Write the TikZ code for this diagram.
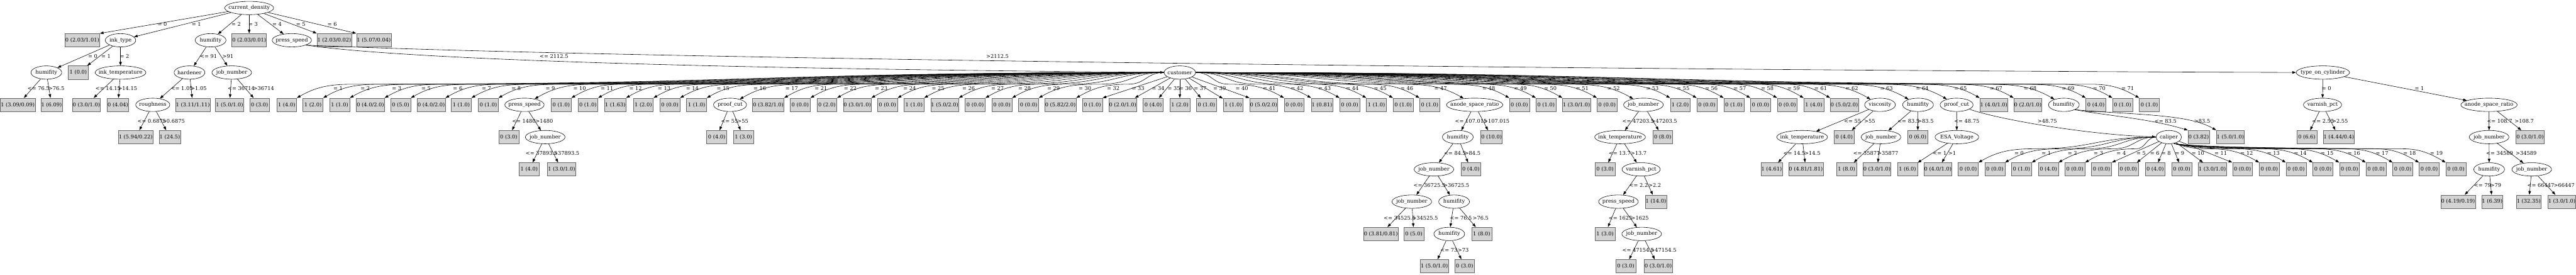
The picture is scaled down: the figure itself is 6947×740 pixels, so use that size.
\documentclass[tikz,border=0pt]{standalone}
\usepackage{fontspec}
\setmainfont{DejaVu Serif}
\usetikzlibrary{arrows.meta,shapes}
\definecolor{leafgray}{HTML}{D3D3D3}

\begin{document}
\begin{tikzpicture}[
    x=1pt, y=1pt,
    every node/.style={font=\fontsize{14}{16}\selectfont},
    dec/.style={ellipse, draw, line width=1pt, inner sep=-100pt, minimum height=36pt, minimum width=#1},
    dec/.default=83,
    leaf/.style={rectangle, draw=black!60, fill=leafgray, line width=1pt, inner xsep=1pt, inner ysep=0pt, minimum width=54pt, minimum height=36pt},
    lbl/.style={inner sep=1pt},
    arr/.style={-{Triangle[length=10pt,width=7pt]}, line width=1pt},
]
\useasboundingbox (0,0) rectangle (6947,-740);
\node[dec=132] (cd) at (672,-21.5) {current\_density};
\node[leaf] (cd0) at (222,-108.5) {0 (2.03/1.01)};
\node[dec=82] (ink) at (325,-108.5) {ink\_type};
\node[dec] (hum1) at (568,-108.5) {humifity};
\node[leaf] (cd3) at (672,-108.5) {0 (2.03/0.01)};
\node[dec=106] (prs1) at (787,-108.5) {press\_speed};
\node[leaf] (cd5) at (901.5,-108.5) {1 (2.03/0.02)};
\node[leaf] (cd6) at (1008,-108.5) {1 (5.07/0.04)};
\node[dec] (hum2) at (125,-195.5) {humifity};
\node[leaf] (ink1) at (211,-195.5) {1 (0.0)};
\node[dec=137] (ikt1) at (325,-195.5) {ink\_temperature};
\node[dec] (hard) at (511,-195.5) {hardener};
\node[dec=107] (job1) at (625,-195.5) {job\_number};
\node[dec=85] (cust) at (3181.8,-195.5) {customer};
\node[dec=144] (toc) at (6264.3,-195.5) {type\_on\_cylinder};
\node[leaf] (h2a) at (48,-282.5) {1 (3.09/0.09)};
\node[leaf] (h2b) at (139,-282.5) {1 (6.09)};
\node[leaf] (t1a) at (233,-282.5) {0 (3.0/1.0)};
\node[leaf] (t1b) at (318,-282.5) {0 (4.04)};
\node[dec=92] (rough) at (412,-282.5) {roughness};
\node[leaf] (hda) at (520,-282.5) {1 (3.11/1.11)};
\node[leaf] (j1a) at (619,-282.5) {1 (5.0/1.0)};
\node[leaf] (j1b) at (700,-282.5) {0 (3.0)};
\node[leaf] (rga) at (366,-369.5) {1 (5.94/0.22)};
\node[leaf] (rgb) at (458,-369.5) {1 (24.5)};
\node[leaf] (cu01) at (773,-282.5) {1 (4.0)};
\node[leaf] (cu02) at (844,-282.5) {1 (2.0)};
\node[leaf] (cu03) at (916,-282.5) {1 (1.0)};
\node[leaf] (cu04) at (999,-282.5) {0 (4.0/2.0)};
\node[leaf] (cu05) at (1080.5,-282.5) {0 (5.0)};
\node[leaf] (cu06) at (1163,-282.5) {0 (4.0/2.0)};
\node[leaf] (cu07) at (1244,-282.5) {1 (1.0)};
\node[leaf] (cu08) at (1317,-282.5) {0 (1.0)};
\node[dec=106] (prs2) at (1414.4,-282.5) {press\_speed};
\node[leaf] (cu10) at (1513.5,-282.5) {0 (1.0)};
\node[leaf] (cu11) at (1585.5,-282.5) {0 (1.0)};
\node[leaf] (cu12) at (1659.3,-282.5) {1 (1.63)};
\node[leaf] (cu13) at (1734.8,-282.5) {1 (2.0)};
\node[leaf] (cu14) at (1806.6,-282.5) {0 (0.0)};
\node[leaf] (cu15) at (1878.6,-282.5) {1 (1.0)};
\node[dec=89] (pcut1) at (1968.8,-282.5) {proof\_cut};
\node[leaf] (cu17) at (2072,-282.5) {0 (3.82/1.0)};
\node[leaf] (cu18) at (2158,-282.5) {0 (0.0)};
\node[leaf] (cu19) at (2230,-282.5) {0 (2.0)};
\node[leaf] (cu20) at (2311.8,-282.5) {0 (3.0/1.0)};
\node[leaf] (cu21) at (2393.3,-282.5) {0 (0.0)};
\node[leaf] (cu22) at (2465,-282.5) {1 (1.0)};
\node[leaf] (cu23) at (2547.6,-282.5) {1 (5.0/2.0)};
\node[leaf] (cu24) at (2630,-282.5) {0 (0.0)};
\node[leaf] (cu25) at (2702,-282.5) {0 (0.0)};
\node[leaf] (cu26) at (2774,-282.5) {0 (0.0)};
\node[leaf] (cu27) at (2859.7,-282.5) {0 (5.82/2.0)};
\node[leaf] (cu28) at (2946,-282.5) {0 (1.0)};
\node[leaf] (cu29) at (3027.8,-282.5) {0 (2.0/1.0)};
\node[leaf] (cu30) at (3110,-282.5) {0 (4.0)};
\node[leaf] (cu31) at (3181.8,-282.5) {1 (2.0)};
\node[leaf] (cu32) at (3253.6,-282.5) {0 (1.0)};
\node[leaf] (cu33) at (3325.5,-282.5) {1 (1.0)};
\node[leaf] (cu34) at (3407.8,-282.5) {0 (5.0/2.0)};
\node[leaf] (cu35) at (3490,-282.5) {0 (0.0)};
\node[leaf] (cu36) at (3565,-282.5) {1 (0.81)};
\node[leaf] (cu37) at (3640,-282.5) {0 (0.0)};
\node[leaf] (cu38) at (3712,-282.5) {1 (1.0)};
\node[leaf] (cu39) at (3784,-282.5) {0 (1.0)};
\node[leaf] (cu40) at (3855.6,-282.5) {0 (1.0)};
\node[dec=152] (anod1) at (3976.8,-282.5) {anode\_space\_ratio};
\node[leaf] (cu42) at (4097.5,-282.5) {0 (0.0)};
\node[leaf] (cu43) at (4169.3,-282.5) {0 (1.0)};
\node[leaf] (cu44) at (4251.6,-282.5) {1 (3.0/1.0)};
\node[leaf] (cu45) at (4334,-282.5) {0 (0.0)};
\node[dec=107] (job3) at (4432,-282.5) {job\_number};
\node[leaf] (cu47) at (4531.3,-282.5) {1 (2.0)};
\node[leaf] (cu48) at (4603,-282.5) {0 (0.0)};
\node[leaf] (cu49) at (4675.8,-282.5) {0 (1.0)};
\node[leaf] (cu50) at (4747.8,-282.5) {0 (0.0)};
\node[leaf] (cu51) at (4819.7,-282.5) {0 (0.0)};
\node[leaf] (cu52) at (4891.6,-282.5) {1 (4.0)};
\node[leaf] (cu53) at (4973.8,-282.5) {0 (5.0/2.0)};
\node[dec] (visc) at (5070,-282.5) {viscosity};
\node[dec] (hum3) at (5172.5,-282.5) {humifity};
\node[dec=89] (pcut2) at (5276.5,-282.5) {proof\_cut};
\node[leaf] (cu57) at (5376.8,-282.5) {1 (4.0/1.0)};
\node[leaf] (cu58) at (5468.6,-282.5) {0 (2.0/1.0)};
\node[dec] (hum4) at (5565.8,-282.5) {humifity};
\node[leaf] (cu60) at (5652.3,-282.5) {0 (4.0)};
\node[leaf] (cu61) at (5724.2,-282.5) {0 (1.0)};
\node[leaf] (cu62) at (5796.3,-282.5) {0 (1.0)};
\node[leaf] (p2a) at (1372,-369.5) {0 (3.0)};
\node[dec=107] (job2) at (1470.3,-369.5) {job\_number};
\node[leaf] (j2a) at (1427,-456.5) {1 (4.0)};
\node[leaf] (j2b) at (1514.6,-456.5) {1 (3.0/1.0)};
\node[leaf] (pc1a) at (1932.9,-369.5) {0 (4.0)};
\node[leaf] (pc1b) at (2004.8,-369.5) {1 (3.0)};
\node[dec] (hum5) at (3931.4,-369.5) {humifity};
\node[leaf] (an1b) at (4022.4,-369.5) {0 (10.0)};
\node[dec=107] (job6) at (3867,-456.5) {job\_number};
\node[leaf] (h5b) at (3966.6,-456.5) {0 (4.0)};
\node[dec=107] (job7) at (3807.4,-543.5) {job\_number};
\node[dec] (hum6) at (3921.4,-543.5) {humifity};
\node[leaf] (j7a) at (3724,-630.5) {0 (3.81/0.81)};
\node[leaf] (j7b) at (3812.8,-630.5) {0 (5.0)};
\node[dec] (hum7) at (3908.4,-630.5) {humifity};
\node[leaf] (h6b) at (3995.7,-630.5) {1 (8.0)};
\node[leaf] (h7a) at (3868.2,-717.5) {1 (5.0/1.0)};
\node[leaf] (h7b) at (3949.8,-717.5) {0 (3.0)};
\node[dec=137] (ikt2) at (4369,-369.5) {ink\_temperature};
\node[leaf] (j3b) at (4484,-369.5) {0 (8.0)};
\node[leaf] (i2a) at (4328.6,-456.5) {0 (3.0)};
\node[dec=103] (varn1) at (4425.8,-456.5) {varnish\_pct};
\node[dec=107] (prs3) at (4364.6,-543.5) {press\_speed};
\node[leaf] (v1b) at (4465.6,-543.5) {1 (14.0)};
\node[leaf] (p3a) at (4328.6,-630.5) {1 (3.0)};
\node[dec=107] (job8) at (4427.3,-630.5) {job\_number};
\node[leaf] (j8a) at (4384.4,-717.5) {0 (3.0)};
\node[leaf] (j8b) at (4472,-717.5) {0 (3.0/1.0)};
\node[dec=137] (ikt3) at (4860,-369.5) {ink\_temperature};
\node[leaf] (vb) at (4973.5,-369.5) {0 (4.0)};
\node[leaf] (i3a) at (4777.6,-456.5) {1 (4.61)};
\node[leaf] (i3b) at (4870,-456.5) {0 (4.81/1.81)};
\node[dec=107] (job9) at (5072.6,-369.5) {job\_number};
\node[leaf] (h3b) at (5171.8,-369.5) {0 (6.0)};
\node[leaf] (j9a) at (4979.6,-456.5) {1 (8.0)};
\node[leaf] (j9b) at (5061.8,-456.5) {0 (3.0/1.0)};
\node[dec=118] (esa) at (5277.3,-369.5) {ESA\_Voltage};
\node[leaf] (ea) at (5144,-456.5) {1 (6.0)};
\node[leaf] (eb) at (5226,-456.5) {0 (4.0/1.0)};
\node[dec=69] (cal) at (5848.7,-369.5) {caliper};
\node[leaf] (h4a) at (5929.5,-369.5) {0 (3.82)};
\node[leaf] (h4b) at (6014.8,-369.5) {1 (5.0/1.0)};
\node[leaf] (ca00) at (5308,-456.5) {0 (0.0)};
\node[leaf] (ca01) at (5379.7,-456.5) {0 (0.0)};
\node[leaf] (ca02) at (5451.7,-456.5) {0 (1.0)};
\node[leaf] (ca03) at (5524,-456.5) {0 (4.0)};
\node[leaf] (ca04) at (5595.6,-456.5) {0 (0.0)};
\node[leaf] (ca05) at (5667.6,-456.5) {0 (0.0)};
\node[leaf] (ca06) at (5739.5,-456.5) {0 (0.0)};
\node[leaf] (ca08) at (5812,-456.5) {0 (4.0)};
\node[leaf] (ca09) at (5883.7,-456.5) {0 (0.0)};
\node[leaf] (ca10) at (5966,-456.5) {1 (3.0/1.0)};
\node[leaf] (ca11) at (6047.6,-456.5) {0 (0.0)};
\node[leaf] (ca12) at (6120,-456.5) {0 (0.0)};
\node[leaf] (ca13) at (6192,-456.5) {0 (0.0)};
\node[leaf] (ca14) at (6264.6,-456.5) {0 (0.0)};
\node[leaf] (ca15) at (6336,-456.5) {0 (0.0)};
\node[leaf] (ca16) at (6407.6,-456.5) {0 (0.0)};
\node[leaf] (ca17) at (6480,-456.5) {0 (0.0)};
\node[leaf] (ca18) at (6551,-456.5) {0 (0.0)};
\node[leaf] (ca19) at (6623,-456.5) {0 (0.0)};
\node[dec=103] (varn2) at (6263.4,-282.5) {varnish\_pct};
\node[dec=152] (anod2) at (6712.3,-282.5) {anode\_space\_ratio};
\node[leaf] (v2a) at (6221,-369.5) {0 (6.6)};
\node[leaf] (v2b) at (6307.3,-369.5) {1 (4.44/0.4)};
\node[dec=107] (job4) at (6712.6,-369.5) {job\_number};
\node[leaf] (a2b) at (6823,-369.5) {0 (3.0/1.0)};
\node[dec] (hum8) at (6712.7,-456.5) {humifity};
\node[dec=107] (job5) at (6827.6,-456.5) {job\_number};
\node[leaf] (h8a) at (6629,-543.5) {0 (4.19/0.19)};
\node[leaf] (h8b) at (6721,-543.5) {1 (6.39)};
\node[leaf] (j5a) at (6819.4,-543.5) {1 (32.35)};
\node[leaf] (j5b) at (6908.7,-543.5) {1 (3.0/1.0)};
\draw[arr] (cd) -- (cd0.north east) node[lbl] at (437.7,-65) {= 0};
\draw[arr] (cd) -- (ink) node[lbl] at (529.6,-65) {= 1};
\draw[arr] (cd) -- (hum1) node[lbl] at (636.7,-65) {= 2};
\draw[arr] (cd) -- (cd3) node[lbl] at (682.6,-65) {= 3};
\draw[arr] (cd) -- (prs1) node[lbl] at (747,-65) {= 4};
\draw[arr] (cd) -- (cd5.north west) node[lbl] at (811,-65) {= 5};
\draw[arr] (cd) -- (cd6.north west) node[lbl] at (896,-65) {= 6};
\draw[arr] (ink) -- (hum2) node[lbl] at (250,-152) {= 0};
\draw[arr] (ink) -- (ink1) node[lbl] at (285.8,-152) {= 1};
\draw[arr] (ink) -- (ikt1) node[lbl] at (336,-152) {= 2};
\draw[arr] (hum1) -- (hard) node[lbl] at (562.5,-152) {<= 91};
\draw[arr] (hum1) -- (job1) node[lbl] at (614.5,-152) {>91};
\draw[arr] (prs1.south east) .. controls (1200,-175) and (2500,-190) .. (cust) node[lbl] at (1494,-152) {<= 2112.5};
\draw[arr] (prs1.south east) .. controls (1700,-160) and (4500,-190) .. (toc) node[lbl] at (2690,-152) {>2112.5};
\draw[arr] (hum2) -- (h2a) node[lbl] at (104,-239) {<= 76.5};
\draw[arr] (hum2) -- (h2b) node[lbl] at (152,-239) {>76.5};
\draw[arr] (ikt1) -- (t1a) node[lbl] at (291.6,-239) {<= 14.15};
\draw[arr] (ikt1) -- (t1b) node[lbl] at (344,-239) {>14.15};
\draw[arr] (hard) -- (rough) node[lbl] at (490.5,-239) {<= 1.05};
\draw[arr] (hard) -- (hda) node[lbl] at (535.7,-239) {>1.05};
\draw[arr] (job1) -- (j1a) node[lbl] at (650.5,-239) {<= 36714};
\draw[arr] (job1) -- (j1b) node[lbl] at (711,-239) {>36714};
\draw[arr] (rough) -- (rga) node[lbl] at (409.4,-326) {<= 0.6875};
\draw[arr] (rough) -- (rgb) node[lbl] at (468,-326) {>0.6875};
\draw[arr] (cust) .. controls (2045.4,-195.5) and (2045.4,-227) .. (951.5,-227) to[out=180,in=30] (cu01.north east) node[lbl] at (911.5,-239) {= 1};
\draw[arr] (cust) .. controls (2082.2,-195.5) and (2082.2,-227) .. (1025,-227) to[out=180,in=30] (cu02.north east) node[lbl] at (985,-239) {= 2};
\draw[arr] (cust) .. controls (2124.6,-195.5) and (2124.6,-227) .. (1109.8,-227) to[out=180,in=30] (cu03.north east) node[lbl] at (1069.8,-239) {= 3};
\draw[arr] (cust) .. controls (2164.2,-195.5) and (2164.2,-227) .. (1189,-227) to[out=180,in=30] (cu04.north east) node[lbl] at (1149,-239) {= 5};
\draw[arr] (cust) .. controls (2206.9,-195.5) and (2206.9,-227) .. (1274.5,-227) to[out=180,in=30] (cu05.north east) node[lbl] at (1234.5,-239) {= 6};
\draw[arr] (cust) .. controls (2245.6,-195.5) and (2245.6,-227) .. (1351.8,-227) to[out=180,in=30] (cu06.north east) node[lbl] at (1311.8,-239) {= 7};
\draw[arr] (cust) .. controls (2285.7,-195.5) and (2285.7,-227) .. (1432,-227) to[out=180,in=30] (cu07.north east) node[lbl] at (1392,-239) {= 8};
\draw[arr] (cust) .. controls (2331.7,-195.5) and (2331.7,-227) .. (1524,-227) to[out=180,in=30] (cu08.north east) node[lbl] at (1484,-239) {= 9};
\draw[arr] (cust) .. controls (2371.2,-195.5) and (2371.2,-227) .. (1603,-227) to[out=180,in=30] (prs2) node[lbl] at (1563,-239) {= 10};
\draw[arr] (cust) .. controls (2408.2,-195.5) and (2408.2,-227) .. (1677,-227) to[out=180,in=30] (cu10.north east) node[lbl] at (1637,-239) {= 11};
\draw[arr] (cust) .. controls (2446.7,-195.5) and (2446.7,-227) .. (1754,-227) to[out=180,in=30] (cu11.north east) node[lbl] at (1714,-239) {= 12};
\draw[arr] (cust) .. controls (2485.2,-195.5) and (2485.2,-227) .. (1831,-227) to[out=180,in=30] (cu12.north east) node[lbl] at (1791,-239) {= 13};
\draw[arr] (cust) .. controls (2523.2,-195.5) and (2523.2,-227) .. (1907,-227) to[out=180,in=30] (cu13.north east) node[lbl] at (1867,-239) {= 14};
\draw[arr] (cust) .. controls (2564.7,-195.5) and (2564.7,-227) .. (1990,-227) to[out=180,in=30] (cu14.north east) node[lbl] at (1950,-239) {= 15};
\draw[arr] (cust) .. controls (2614.2,-195.5) and (2614.2,-227) .. (2089,-227) to[out=180,in=30] (cu15.north east) node[lbl] at (2049,-239) {= 16};
\draw[arr] (cust) .. controls (2657.2,-195.5) and (2657.2,-227) .. (2175,-227) to[out=180,in=30] (pcut1) node[lbl] at (2135,-239) {= 17};
\draw[arr] (cust) .. controls (2696.7,-195.5) and (2696.7,-227) .. (2254,-227) to[out=180,in=30] (cu17.north east) node[lbl] at (2214,-239) {= 21};
\draw[arr] (cust) .. controls (2736.2,-195.5) and (2736.2,-227) .. (2333,-227) to[out=180,in=30] (cu18.north east) node[lbl] at (2293,-239) {= 22};
\draw[arr] (cust) .. controls (2777.9,-195.5) and (2777.9,-227) .. (2416.5,-227) to[out=180,in=30] (cu19.north east) node[lbl] at (2376.5,-239) {= 23};
\draw[arr] (cust) .. controls (2816.2,-195.5) and (2816.2,-227) .. (2493,-227) to[out=180,in=30] (cu20.north east) node[lbl] at (2453,-239) {= 24};
\draw[arr] (cust) .. controls (2854.7,-195.5) and (2854.7,-227) .. (2570,-227) to[out=180,in=30] (cu21.north east) node[lbl] at (2530,-239) {= 25};
\draw[arr] (cust) .. controls (2895.7,-195.5) and (2895.7,-227) .. (2652,-227) to[out=180,in=30] (cu22.north east) node[lbl] at (2612,-239) {= 26};
\draw[arr] (cust) .. controls (2934.7,-195.5) and (2934.7,-227) .. (2730,-227) to[out=180,in=30] (cu23.north east) node[lbl] at (2690,-239) {= 27};
\draw[arr] (cust) .. controls (2971.2,-195.5) and (2971.2,-227) .. (2803,-227) to[out=180,in=30] (cu24.north east) node[lbl] at (2763,-239) {= 28};
\draw[arr] (cust) .. controls (3010.2,-195.5) and (3010.2,-227) .. (2881,-227) to[out=180,in=30] (cu25.north east) node[lbl] at (2841,-239) {= 29};
\draw[arr] (cust) .. controls (3052.7,-195.5) and (3052.7,-227) .. (2966,-227) to[out=180,in=30] (cu26.north east) node[lbl] at (2926,-239) {= 30};
\draw[arr] (cust) .. controls (3090.7,-195.5) and (3090.7,-227) .. (3042,-227) to[out=180,in=30] (cu27.north east) node[lbl] at (3002,-239) {= 32};
\draw[arr] (cust) -- (cu28.north east) node[lbl] at (3069,-239) {= 33};
\draw[arr] (cust) -- (cu29) node[lbl] at (3123.5,-239) {= 34};
\draw[arr] (cust) -- (cu30) node[lbl] at (3166,-239) {= 35};
\draw[arr] (cust) -- (cu31) node[lbl] at (3197,-239) {= 36};
\draw[arr] (cust) -- (cu32) node[lbl] at (3236.7,-239) {= 37};
\draw[arr] (cust) -- (cu33) node[lbl] at (3289,-239) {= 39};
\draw[arr] (cust) -- (cu34.north west) node[lbl] at (3349,-239) {= 40};
\draw[arr] (cust) .. controls (3269.2,-195.5) and (3269.2,-227) .. (3314,-227) to[out=0,in=150] (cu35.north west) node[lbl] at (3423,-239) {= 41};
\draw[arr] (cust) .. controls (3307.7,-195.5) and (3307.7,-227) .. (3391,-227) to[out=0,in=150] (cu36.north west) node[lbl] at (3498,-239) {= 42};
\draw[arr] (cust) .. controls (3343.2,-195.5) and (3343.2,-227) .. (3462,-227) to[out=0,in=150] (cu37.north west) node[lbl] at (3572,-239) {= 43};
\draw[arr] (cust) .. controls (3382.2,-195.5) and (3382.2,-227) .. (3540,-227) to[out=0,in=150] (cu38.north west) node[lbl] at (3647,-239) {= 44};
\draw[arr] (cust) .. controls (3421.7,-195.5) and (3421.7,-227) .. (3619,-227) to[out=0,in=150] (cu39.north west) node[lbl] at (3722,-239) {= 45};
\draw[arr] (cust) .. controls (3458.2,-195.5) and (3458.2,-227) .. (3692,-227) to[out=0,in=150] (cu40.north west) node[lbl] at (3794,-239) {= 46};
\draw[arr] (cust) .. controls (3486.2,-195.5) and (3486.2,-227) .. (3748,-227) to[out=0,in=150] (anod1) node[lbl] at (3885,-239) {= 47};
\draw[arr] (cust) .. controls (3555.7,-195.5) and (3555.7,-227) .. (3887,-227) to[out=0,in=150] (cu42.north west) node[lbl] at (4015,-239) {= 48};
\draw[arr] (cust) .. controls (3606.7,-195.5) and (3606.7,-227) .. (3989,-227) to[out=0,in=150] (cu43.north west) node[lbl] at (4100.5,-239) {= 49};
\draw[arr] (cust) .. controls (3652.7,-195.5) and (3652.7,-227) .. (4081,-227) to[out=0,in=150] (cu44.north west) node[lbl] at (4181,-239) {= 50};
\draw[arr] (cust) .. controls (3691.2,-195.5) and (3691.2,-227) .. (4158,-227) to[out=0,in=150] (cu45.north west) node[lbl] at (4267,-239) {= 51};
\draw[arr] (cust) .. controls (3725.2,-195.5) and (3725.2,-227) .. (4226,-227) to[out=0,in=150] (job3) node[lbl] at (4351.5,-239) {= 52};
\draw[arr] (cust) .. controls (3780.7,-195.5) and (3780.7,-227) .. (4337,-227) to[out=0,in=150] (cu47.north west) node[lbl] at (4456,-239) {= 53};
\draw[arr] (cust) .. controls (3829.2,-195.5) and (3829.2,-227) .. (4434,-227) to[out=0,in=150] (cu48.north west) node[lbl] at (4539,-239) {= 55};
\draw[arr] (cust) .. controls (3869.2,-195.5) and (3869.2,-227) .. (4514,-227) to[out=0,in=150] (cu49.north west) node[lbl] at (4615,-239) {= 56};
\draw[arr] (cust) .. controls (3910.7,-195.5) and (3910.7,-227) .. (4597,-227) to[out=0,in=150] (cu50.north west) node[lbl] at (4692,-239) {= 57};
\draw[arr] (cust) .. controls (3948.7,-195.5) and (3948.7,-227) .. (4673,-227) to[out=0,in=150] (cu51.north west) node[lbl] at (4766,-239) {= 58};
\draw[arr] (cust) .. controls (3983.7,-195.5) and (3983.7,-227) .. (4743,-227) to[out=0,in=150] (cu52.north west) node[lbl] at (4837,-239) {= 59};
\draw[arr] (cust) .. controls (4021.2,-195.5) and (4021.2,-227) .. (4818,-227) to[out=0,in=150] (cu53.north west) node[lbl] at (4910,-239) {= 61};
\draw[arr] (cust) .. controls (4047.7,-195.5) and (4047.7,-227) .. (4871,-227) to[out=0,in=150] (visc) node[lbl] at (4994,-239) {= 62};
\draw[arr] (cust) .. controls (4089.2,-195.5) and (4089.2,-227) .. (4954,-227) to[out=0,in=150] (hum3) node[lbl] at (5087.5,-239) {= 63};
\draw[arr] (cust) .. controls (4133.2,-195.5) and (4133.2,-227) .. (5042,-227) to[out=0,in=150] (pcut2) node[lbl] at (5184,-239) {= 64};
\draw[arr] (cust) .. controls (4193.7,-195.5) and (4193.7,-227) .. (5163,-227) to[out=0,in=150] (cu57.north west) node[lbl] at (5287,-239) {= 65};
\draw[arr] (cust) .. controls (4244.2,-195.5) and (4244.2,-227) .. (5264,-227) to[out=0,in=150] (cu58.north west) node[lbl] at (5383,-239) {= 67};
\draw[arr] (cust) .. controls (4279.2,-195.5) and (4279.2,-227) .. (5334,-227) to[out=0,in=150] (hum4) node[lbl] at (5475,-239) {= 68};
\draw[arr] (cust) .. controls (4341.2,-195.5) and (4341.2,-227) .. (5458,-227) to[out=0,in=150] (cu60.north west) node[lbl] at (5577,-239) {= 69};
\draw[arr] (cust) .. controls (4390.7,-195.5) and (4390.7,-227) .. (5557,-227) to[out=0,in=150] (cu61.north west) node[lbl] at (5661,-239) {= 70};
\draw[arr] (cust) .. controls (4432.2,-195.5) and (4432.2,-227) .. (5640,-227) to[out=0,in=150] (cu62.north west) node[lbl] at (5738,-239) {= 71};
\draw[arr] (prs2) -- (p2a) node[lbl] at (1412.8,-326) {<= 1480};
\draw[arr] (prs2) -- (job2) node[lbl] at (1467.6,-326) {>1480};
\draw[arr] (job2) -- (j2a) node[lbl] at (1460.7,-413) {<= 37893.5};
\draw[arr] (job2) -- (j2b) node[lbl] at (1527.5,-413) {>37893.5};
\draw[arr] (pcut1) -- (pc1a) node[lbl] at (1967.4,-326) {<= 55};
\draw[arr] (pcut1) -- (pc1b) node[lbl] at (2003.3,-326) {>55};
\draw[arr] (anod1) -- (hum5) node[lbl] at (3967,-326) {<= 107.015};
\draw[arr] (anod1) -- (an1b) node[lbl] at (4036,-326) {>107.015};
\draw[arr] (hum5) -- (job6) node[lbl] at (3923.7,-413) {<= 84.5};
\draw[arr] (hum5) -- (h5b) node[lbl] at (3971,-413) {>84.5};
\draw[arr] (job6) -- (job7) node[lbl] at (3855,-500) {<= 36725.5};
\draw[arr] (job6) -- (hum6) node[lbl] at (3927.5,-500) {>36725.5};
\draw[arr] (job7) -- (j7a) node[lbl] at (3774.5,-587) {<= 34525.5};
\draw[arr] (job7) -- (j7b) node[lbl] at (3843,-587) {>34525.5};
\draw[arr] (hum6) -- (hum7) node[lbl] at (3940,-587) {<= 76.5};
\draw[arr] (hum6) -- (h6b) node[lbl] at (3993,-587) {>76.5};
\draw[arr] (hum7) -- (h7a) node[lbl] at (3907.6,-674) {<= 73};
\draw[arr] (hum7) -- (h7b) node[lbl] at (3946,-674) {>73};
\draw[arr] (job3) -- (ikt2) node[lbl] at (4418,-326) {<= 47203.5};
\draw[arr] (job3) -- (j3b) node[lbl] at (4488,-326) {>47203.5};
\draw[arr] (ikt2) -- (i2a) node[lbl] at (4368,-413) {<= 13.7};
\draw[arr] (ikt2) -- (varn1) node[lbl] at (4419,-413) {>13.7};
\draw[arr] (varn1) -- (prs3) node[lbl] at (4419,-500) {<= 2.2};
\draw[arr] (varn1) -- (v1b) node[lbl] at (4462.5,-500) {>2.2};
\draw[arr] (prs3) -- (p3a) node[lbl] at (4370,-587) {<= 1625};
\draw[arr] (prs3) -- (job8) node[lbl] at (4422.7,-587) {>1625};
\draw[arr] (job8) -- (j8a) node[lbl] at (4418,-674) {<= 47154.5};
\draw[arr] (job8) -- (j8b) node[lbl] at (4486,-674) {>47154.5};
\draw[arr] (visc) -- (ikt3) node[lbl] at (4996,-326) {<= 55};
\draw[arr] (visc) -- (vb) node[lbl] at (5042,-326) {>55};
\draw[arr] (ikt3) -- (i3a) node[lbl] at (4838.8,-413) {<= 14.5};
\draw[arr] (ikt3) -- (i3b) node[lbl] at (4887.7,-413) {>14.5};
\draw[arr] (hum3) -- (job9) node[lbl] at (5147,-326) {<= 83.5};
\draw[arr] (hum3) -- (h3b) node[lbl] at (5193,-326) {>83.5};
\draw[arr] (job9) -- (j9a) node[lbl] at (5034,-413) {<= 35877};
\draw[arr] (job9) -- (j9b) node[lbl] at (5091,-413) {>35877};
\draw[arr] (pcut2) -- (esa) node[lbl] at (5304,-326) {<= 48.75};
\draw[arr] (pcut2) .. controls (5400,-325) and (5650,-365) .. (cal) node[lbl] at (5521,-326) {>48.75};
\draw[arr] (esa) -- (ea) node[lbl] at (5231,-413) {<= 1};
\draw[arr] (esa) -- (eb) node[lbl] at (5264.6,-413) {>1};
\draw[arr] (hum4.south east) .. controls (5680,-312) and (5790,-318) .. (h4a.north west) node[lbl] at (5840,-326) {<= 83.5};
\draw[arr] (hum4.south east) .. controls (5750,-310) and (5900,-306) .. (h4b.north west) node[lbl] at (5939,-326) {>83.5};
\draw[arr] (cal) .. controls (5649.7,-369.5) and (5649.7,-401) .. (5485,-401) to[out=180,in=30] (ca00.north east) node[lbl] at (5445,-413) {= 0};
\draw[arr] (cal) .. controls (5686.5,-369.5) and (5686.5,-401) .. (5558.5,-401) to[out=180,in=30] (ca01.north east) node[lbl] at (5518.5,-413) {= 1};
\draw[arr] (cal) .. controls (5721.7,-369.5) and (5721.7,-401) .. (5629,-401) to[out=180,in=30] (ca02.north east) node[lbl] at (5589,-413) {= 2};
\draw[arr] (cal) .. controls (5756.7,-369.5) and (5756.7,-401) .. (5699,-401) to[out=180,in=30] (ca03.north east) node[lbl] at (5659,-413) {= 3};
\draw[arr] (cal) .. controls (5787.5,-369.5) and (5787.5,-401) .. (5760.5,-401) to[out=180,in=30] (ca04.north east) node[lbl] at (5720.5,-413) {= 4};
\draw[arr] (cal) -- (ca05.north east) node[lbl] at (5774,-413) {= 5};
\draw[arr] (cal) -- (ca06) node[lbl] at (5811,-413) {= 6};
\draw[arr] (cal) -- (ca08) node[lbl] at (5841.5,-413) {= 8};
\draw[arr] (cal) -- (ca09) node[lbl] at (5878,-413) {= 9};
\draw[arr] (cal) -- (ca10) node[lbl] at (5927.5,-413) {= 10};
\draw[arr] (cal) -- (ca11.north west) node[lbl] at (5989,-413) {= 11};
\draw[arr] (cal.-50) .. controls (5905,-400) and +(-30,0) .. (5957,-401) to[out=0,in=150] (ca12.north west) node[lbl] at (6058.7,-413) {= 12};
\draw[arr] (cal.-50) .. controls (5905,-400) and +(-30,0) .. (6029,-401) to[out=0,in=150] (ca13.north west) node[lbl] at (6131,-413) {= 13};
\draw[arr] (cal.-50) .. controls (5905,-400) and +(-30,0) .. (6102,-401) to[out=0,in=150] (ca14.north west) node[lbl] at (6203.5,-413) {= 14};
\draw[arr] (cal.-50) .. controls (5905,-400) and +(-30,0) .. (6175,-401) to[out=0,in=150] (ca15.north west) node[lbl] at (6275.7,-413) {= 15};
\draw[arr] (cal.-50) .. controls (5905,-400) and +(-30,0) .. (6248,-401) to[out=0,in=150] (ca16.north west) node[lbl] at (6348,-413) {= 16};
\draw[arr] (cal.-50) .. controls (5905,-400) and +(-30,0) .. (6328,-401) to[out=0,in=150] (ca17.north west) node[lbl] at (6424,-413) {= 17};
\draw[arr] (cal.-50) .. controls (5905,-400) and +(-30,0) .. (6406,-401) to[out=0,in=150] (ca18.north west) node[lbl] at (6498,-413) {= 18};
\draw[arr] (cal.-50) .. controls (5905,-400) and +(-30,0) .. (6479,-401) to[out=0,in=150] (ca19.north west) node[lbl] at (6570.4,-413) {= 19};
\draw[arr] (toc) -- (varn2) node[lbl] at (6274,-239) {= 0};
\draw[arr] (toc) -- (anod2) node[lbl] at (6524.5,-239) {= 1};
\draw[arr] (varn2) -- (v2a) node[lbl] at (6264.7,-326) {<= 2.55};
\draw[arr] (varn2) -- (v2b) node[lbl] at (6310.5,-326) {>2.55};
\draw[arr] (anod2) -- (job4) node[lbl] at (6741,-326) {<= 108.7};
\draw[arr] (anod2) -- (a2b) node[lbl] at (6807.3,-326) {>108.7};
\draw[arr] (job4) -- (hum8) node[lbl] at (6741,-413) {<= 34589};
\draw[arr] (job4) -- (job5) node[lbl] at (6812.6,-413) {>34589};
\draw[arr] (hum8) -- (h8a) node[lbl] at (6695,-500) {<= 79};
\draw[arr] (hum8) -- (h8b) node[lbl] at (6730.6,-500) {>79};
\draw[arr] (job5) -- (j5a) node[lbl] at (6852,-500) {<= 66447};
\draw[arr] (job5) -- (j5b) node[lbl] at (6915,-500) {>66447};
\end{tikzpicture}
\end{document}
